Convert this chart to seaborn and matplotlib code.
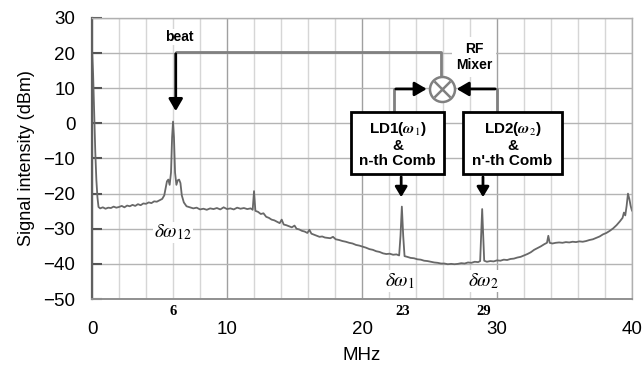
import matplotlib
matplotlib.use('Agg')
import numpy as np
import pandas as pd
import seaborn as sns
import matplotlib.pyplot as plt

# spectrum (MHz, dBm)
freq = [0.0, 0.08, 0.16, 0.24, 0.32, 0.40, 0.48, 0.6, 0.8, 1.0, 1.2, 1.4, 1.6, 1.8,
        2.0, 2.2, 2.4, 2.6, 2.8, 3.0, 3.2, 3.4, 3.6, 3.8, 4.0, 4.2, 4.4, 4.6, 4.8,
        5.0, 5.2, 5.35, 5.45, 5.55, 5.65, 5.75, 5.85, 5.93, 6.0, 6.07, 6.15, 6.25,
        6.35, 6.45, 6.55, 6.65, 6.8, 7.0, 7.25, 7.5, 7.75, 8.0, 8.25, 8.5, 8.75,
        9.0, 9.25, 9.5, 9.75, 10.0, 10.25, 10.5, 10.75, 11.0, 11.25, 11.5, 11.75,
        11.9, 12.0, 12.1, 12.3, 12.5, 12.7, 12.9, 13.1, 13.3, 13.5, 13.7, 13.9,
        14.05, 14.2, 14.4, 14.6, 14.8, 15.0, 15.15, 15.35, 15.55, 15.75, 15.95,
        16.1, 16.25, 16.45, 16.65, 16.85, 17.05, 17.25, 17.45, 17.65, 17.85, 18.05,
        18.3, 18.55, 18.8, 19.05, 19.3, 19.55, 19.8, 20.05, 20.3, 20.55, 20.8,
        21.05, 21.3, 21.55, 21.8, 22.05, 22.3, 22.55, 22.75, 22.85, 22.95, 23.05,
        23.15, 23.35, 23.6, 23.85, 24.1, 24.35, 24.6, 24.85, 25.1, 25.35, 25.6,
        25.85, 26.1, 26.35, 26.6, 26.85, 27.1, 27.35, 27.6, 27.85, 28.1, 28.35,
        28.6, 28.75, 28.83, 28.9, 28.97, 29.05, 29.25, 29.5, 29.75, 30.0, 30.25,
        30.5, 30.75, 31.0, 31.25, 31.5, 31.75, 32.0, 32.25, 32.5, 32.75, 33.0,
        33.25, 33.5, 33.7, 33.8, 33.9, 34.1, 34.35, 34.6, 34.85, 35.1, 35.35,
        35.6, 35.85, 36.1, 36.35, 36.6, 36.85, 37.1, 37.35, 37.6, 37.85, 38.1,
        38.35, 38.6, 38.85, 39.1, 39.3, 39.4, 39.5, 39.6, 39.7, 39.8, 39.9, 40.0]
level = [21.0, 14.0, 3.0, -8.0, -16.0, -21.0, -23.8, -24.2, -23.9, -24.3, -24.0,
         -24.1, -23.7, -24.0, -23.8, -23.5, -23.9, -23.4, -23.6, -23.2, -23.5,
         -23.0, -23.3, -22.8, -22.9, -22.5, -22.7, -22.2, -22.3, -21.9, -21.5,
         -20.5, -18.5, -16.5, -16.0, -17.5, -14.0, -4.0, 0.5, -4.0, -14.0, -17.5,
         -16.2, -16.0, -17.0, -20.5, -22.5, -23.6, -23.9, -24.2, -24.0, -24.5,
         -24.3, -24.6, -24.2, -24.4, -24.1, -24.5, -23.9, -24.4, -24.2, -24.5,
         -24.0, -24.3, -24.1, -24.4, -24.2, -24.6, -19.3, -24.9, -25.2, -25.8,
         -25.6, -26.6, -26.9, -27.4, -27.6, -28.0, -28.4, -27.4, -28.8, -29.0,
         -29.3, -29.6, -29.1, -30.0, -30.2, -30.6, -30.8, -31.2, -30.3, -31.4,
         -31.7, -32.0, -32.3, -32.2, -32.5, -32.6, -32.7, -32.3, -33.0, -33.2,
         -33.5, -33.7, -34.0, -34.2, -34.6, -34.8, -35.1, -35.4, -35.8, -36.0,
         -36.4, -36.6, -37.0, -37.2, -37.1, -37.4, -37.3, -37.6, -32.0, -23.7,
         -32.0, -37.8, -38.0, -38.3, -38.4, -38.7, -38.8, -39.1, -39.2, -39.4,
         -39.6, -39.7, -39.9, -39.9, -40.1, -40.0, -40.1, -40.0, -39.8, -39.9,
         -39.6, -39.7, -39.4, -39.5, -39.2, -31.0, -24.4, -31.0, -39.1, -39.4,
         -39.2, -39.3, -39.0, -39.1, -38.8, -38.9, -38.6, -38.5, -38.2, -38.0,
         -37.6, -37.2, -36.7, -36.0, -35.5, -35.0, -34.4, -34.0, -32.0, -34.0,
         -34.2, -34.0, -33.9, -34.0, -33.8, -33.9, -33.7, -33.8, -33.6, -33.7,
         -33.5, -33.2, -33.0, -32.6, -32.2, -31.6, -31.2, -30.6, -29.9, -29.0,
         -27.9, -26.9, -25.4, -26.2, -23.5, -20.0, -21.5, -23.5, -24.9]

major_x = [0, 10, 20, 30, 40]
y_ticks = [-50, -40, -30, -20, -10, 0, 10, 20, 30]
peak_labels = [6, 23, 29]

df = pd.DataFrame({"MHz": freq, "dBm": level})

sns.set_theme(style="white")
plt.rcParams['font.family'] = ['Liberation Sans', 'DejaVu Sans']
plt.rcParams['mathtext.fontset'] = 'stix'
plt.rcParams['text.color'] = 'black'
plt.rcParams['axes.labelcolor'] = 'black'
plt.rcParams['xtick.color'] = 'black'
plt.rcParams['ytick.color'] = 'black'

fig = plt.figure(figsize=(6.44, 3.68), dpi=100)
ax = fig.add_axes([0.1429, 0.1875, 0.8385, 0.7636])

sns.lineplot(data=df, x="MHz", y="dBm", ax=ax, color="#686868", lw=1.3)

ax.set_xlim(0, 40)
ax.set_ylim(-50, 30)
ax.set_xticks(major_x)
ax.set_xticks(np.arange(0, 41, 2), minor=True)
ax.set_yticks(y_ticks)
ax.grid(which='minor', axis='x', color='#d6d6d6', lw=1)
ax.grid(which='major', axis='x', color='#a0a0a0', lw=1)
ax.grid(which='major', axis='y', color='#b4b4b4', lw=1)
ax.set_axisbelow(True)

ax.tick_params(axis='y', direction='in', length=7, width=1.5, color='#555555',
               labelsize=13.5, pad=12, left=True, labelcolor='black')
ax.tick_params(axis='x', which='major', direction='in', length=0, labelsize=13.5, pad=16,
               labelcolor='black')
ax.tick_params(axis='x', which='minor', length=0)
for s in ['top', 'right']:
    ax.spines[s].set_color('#b0b0b0')
    ax.spines[s].set_linewidth(1)
ax.spines['left'].set_color('#606060')
ax.spines['left'].set_linewidth(1.6)
ax.spines['bottom'].set_color('#909090')
ax.spines['bottom'].set_linewidth(1.4)

ax.set_xlabel("MHz", fontsize=13.5, labelpad=6, color='black')
ax.set_ylabel("Signal intensity (dBm)", fontsize=13, labelpad=6, color='black')

for v in peak_labels:
    ax.text(v, -0.022, str(v), transform=ax.get_xaxis_transform(), ha='center', va='top',
            fontsize=10.5, fontweight='bold', family='Liberation Serif')

# block diagram overlay
gray = '#808080'
wb = dict(facecolor='white', edgecolor='none', pad=1)
ax.text(6.5, 24.6, "beat", ha='center', va='center', fontsize=10, fontweight='bold', bbox=wb)
ax.plot([6.2, 25.85, 25.85], [20.3, 20.3, 13.2], color=gray, lw=2)
ax.annotate("", xy=(6.2, 2.7), xytext=(6.2, 20.6),
            arrowprops=dict(arrowstyle='-|>,head_width=0.35,head_length=0.6', color='black', lw=2))
ax.text(28.3, 18.9, "RF\nMixer", ha='center', va='center', fontsize=10, fontweight='bold',
        linespacing=1.25, bbox=dict(facecolor='white', edgecolor='none', pad=3))
ax.plot([25.9], [9.8], marker='o', ms=18, mfc='white', mec=gray, mew=1.8)
ax.plot([25.9], [9.8], marker='x', ms=12, mec=gray, mew=1.8)

ax.plot([22.37, 22.37], [3.2, 9.8], color=gray, lw=2)
ax.plot([30.0, 30.0], [3.2, 9.8], color=gray, lw=2)
ax.annotate("", xy=(25.0, 9.8), xytext=(22.3, 9.8),
            arrowprops=dict(arrowstyle='-|>,head_width=0.35,head_length=0.6', color='black', lw=2))
ax.annotate("", xy=(26.8, 9.8), xytext=(30.07, 9.8),
            arrowprops=dict(arrowstyle='-|>,head_width=0.35,head_length=0.6', color='black', lw=2))

boxes = [(19.19, 26.07, r"LD1($\boldsymbol{\omega}_1$)", "n-th Comb"),
         (27.48, 34.81, r"LD2($\boldsymbol{\omega}_2$)", "n'-th Comb")]
for x0, x1, lab, comb in boxes:
    ax.add_patch(plt.Rectangle((x0, -14.44), x1 - x0, 17.66, facecolor='white',
                               edgecolor='black', lw=2, zorder=4))
    ax.text((x0 + x1) / 2, -5.9, lab + "\n&\n" + comb,
            ha='center', va='center', fontsize=11, fontweight='bold', linespacing=1.1, zorder=5)

for xa in [22.9, 28.96]:
    ax.annotate("", xy=(xa, -21.8), xytext=(xa, -14.44),
                arrowprops=dict(arrowstyle='-|>,head_width=0.3,head_length=0.5', color='black', lw=2))

lbl = dict(ha='center', va='center', fontsize=14, bbox=dict(facecolor='white', edgecolor='none', pad=0.5))
ax.text(6.0, -31.0, r"$\delta\omega_{12}$", **lbl)
ax.text(22.8, -44.9, r"$\delta\omega_{1}$", **lbl)
ax.text(28.96, -44.9, r"$\delta\omega_{2}$", **lbl)

fig.savefig("out.png", dpi=100)
